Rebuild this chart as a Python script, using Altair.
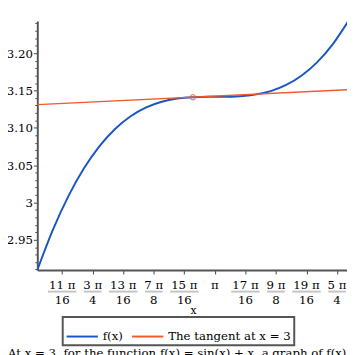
import math
import altair as alt
import pandas as pd

# ---- data ----
curve_x = [2.0, 2.1, 2.2, 2.3, 2.4, 2.5, 2.6, 2.7, 2.8, 2.9, 3.0,
           3.1, 3.2, 3.3, 3.4, 3.5, 3.6, 3.7, 3.8, 3.9, 4.0]
curve_y = [2.9093, 2.9632, 3.0085, 3.0457, 3.0755, 3.0985, 3.1155, 3.1274,
           3.1350, 3.1392, 3.1411, 3.1416, 3.1416, 3.1423, 3.1445, 3.1492,
           3.1575, 3.1702, 3.1881, 3.2122, 3.2432]
tangent_x = [2.0, 4.0]
tangent_y = [3.1311, 3.1511]
point_x = [3.0]
point_y = [3.1411]
series_names = ["f(x)", "The tangent at x = 3"]
series_colors = ["#1b57c2", "#f15a2a"]

tick_k = [11, 12, 13, 14, 15, 16, 17, 18, 19, 20]
tick_num = ["11 π", "3 π", "13 π", "7 π", "15 π", "π", "17 π", "9 π", "19 π", "5 π"]
tick_den = ["16", "4", "16", "8", "16", "", "16", "8", "16", "4"]
y_ticks = [round(2.91 + 0.01 * i, 2) for i in range(34)]

caption = ("At x = 3, for the function f(x) = sin(x) + x, a graph of f(x) "
           "and its tangent line at x = 3 is shown.")

FONT = "DejaVu Serif"
x_dom = [2.0, 3.991]
y_dom = [2.9093, 3.2432]
xs = alt.Scale(domain=x_dom, nice=False, zero=False)
ys = alt.Scale(domain=y_dom, nice=False, zero=False)

curve_df = pd.DataFrame({"x": curve_x, "y": curve_y, "series": series_names[0]})
tan_df = pd.DataFrame({"x": tangent_x, "y": tangent_y, "series": series_names[1]})
pt_df = pd.DataFrame({"x": point_x, "y": point_y})
tick_df = pd.DataFrame({"x": [k * math.pi / 16 for k in tick_k], "num": tick_num, "den": tick_den})

major = "abs(datum.value*20 - round(datum.value*20)) < 0.0001"
y_axis = alt.Axis(
    values=y_ticks, tickCount=200,
    labelExpr=f"({major}) ? (abs(datum.value-3) < 0.0001 ? '3' : format(datum.value, '.2f')) : ''",
    tickSize={"condition": {"test": major, "value": 4}, "value": 2.5},
    labelPadding=1, labelOverlap=False, labelFlush=False,
    domainColor="#555", domainWidth=2, tickColor="#444",
    labelFontSize=12, labelColor="black", labelFont=FONT, grid=False,
)
x_axis = alt.Axis(
    values=[k * math.pi / 16 for k in tick_k], tickCount=200, labels=False, tickSize=4,
    domainColor="#555", domainWidth=2, tickColor="#444", grid=False,
)

color = alt.Color(
    "series:N",
    scale=alt.Scale(domain=series_names, range=series_colors),
    legend=alt.Legend(
        title=None, orient="none", legendX=26, legendY=303, direction="horizontal",
        symbolType="stroke", symbolSize=1024, symbolStrokeWidth=2,
        labelFontSize=12, labelColor="black", labelFont=FONT, labelLimit=300,
        strokeColor="#555", fillColor="white", padding=3, columnPadding=5, labelOffset=4,
    ),
)

curve = alt.Chart(curve_df).mark_line(clip=True, interpolate="monotone", strokeWidth=2).encode(
    x=alt.X("x:Q", scale=xs, axis=x_axis, title=None),
    y=alt.Y("y:Q", scale=ys, axis=y_axis, title=None),
    color=color,
)
tangent = alt.Chart(tan_df).mark_line(clip=True, strokeWidth=1.5).encode(
    x=alt.X("x:Q", scale=xs, title=None),
    y=alt.Y("y:Q", scale=ys, title=None),
    color=color,
)
point = alt.Chart(pt_df).mark_point(filled=False, color=series_colors[1], size=28, strokeWidth=1.3).encode(
    x=alt.X("x:Q", scale=xs, title=None),
    y=alt.Y("y:Q", scale=ys, title=None),
)

nums = alt.Chart(tick_df).mark_text(fontSize=12, font=FONT, baseline="alphabetic", color="black").encode(
    x=alt.X("x:Q", scale=xs, title=None), y=alt.value(274), text="num:N")
dens = alt.Chart(tick_df).mark_text(fontSize=12, font=FONT, baseline="alphabetic", color="black").encode(
    x=alt.X("x:Q", scale=xs, title=None), y=alt.value(290), text="den:N")
bars_wide = alt.Chart(tick_df).transform_filter(
    "length(datum.den) > 0 && length(datum.num) > 3"
).mark_rule(xOffset=-14.5, x2Offset=14.5, strokeWidth=2, color="#c4c4c4").encode(
    x=alt.X("x:Q", scale=xs, title=None), x2=alt.X2("x"), y=alt.value(277))
bars_narrow = alt.Chart(tick_df).transform_filter(
    "length(datum.den) > 0 && length(datum.num) <= 3"
).mark_rule(xOffset=-9, x2Offset=9, strokeWidth=2, color="#c4c4c4").encode(
    x=alt.X("x:Q", scale=xs, title=None), x2=alt.X2("x"), y=alt.value(277))

xtitle = alt.Chart(pd.DataFrame({"t": ["x"]})).mark_text(
    fontSize=11, font=FONT, baseline="alphabetic", color="black").encode(
    x=alt.value(160), y=alt.value(300), text="t:N")
cap = alt.Chart(pd.DataFrame({"t": [caption]})).mark_text(
    fontSize=12, font=FONT, baseline="alphabetic", align="left", color="black").encode(
    x=alt.value(-30), y=alt.value(344), text="t:N")

chart = alt.layer(curve, tangent, point, bars_wide, bars_narrow, nums, dens, xtitle, cap).properties(
    width=317, height=255,
    padding={"left": 30, "top": 9, "right": 0, "bottom": 100},
    autosize=alt.AutoSizeParams(type="none"),
).configure(font=FONT).configure_view(stroke=None).configure_legend(strokeWidth=2)

chart.save("out.html", embed_options={"renderer": "svg", "actions": False})
